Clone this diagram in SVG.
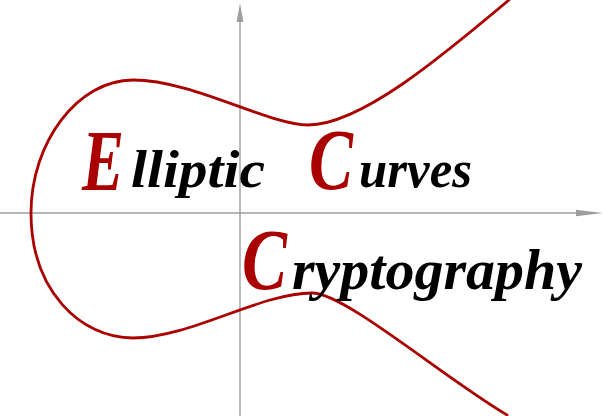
<svg xmlns="http://www.w3.org/2000/svg" width="604" height="416" viewBox="0 0 604 416">
  <style>
    .axis { stroke: #9e9e9e; stroke-width: 1.4; fill: none; }
    .head { fill: #9e9e9e; }
    .curve { stroke: #aa0000; stroke-width: 2.8; fill: none; stroke-linecap: round; }
    .cap { font-family: "Liberation Serif", "Times New Roman", serif; font-style: italic; font-weight: bold; fill: #aa0000; }
    .rest { font-family: "Liberation Serif", "Times New Roman", serif; font-style: italic; font-weight: bold; fill: #000000; }
  </style>
  <rect width="604" height="416" fill="#ffffff"/>
  <g id="connectors">
    <g id="axes">
      <line class="axis" x1="240" y1="20" x2="240" y2="416"/>
      <polygon class="head" points="240,3 236.6,22 243.4,22"/>
      <line class="axis" x1="0" y1="213" x2="578" y2="213"/>
      <polygon class="head" points="603,213 576,209.7 576,216.3"/>
    </g>
    <path id="elliptic-curve" class="curve" d="M 509,0 C 440,58 360,125 308,125 C 268,125 193,80 133,80 C 78,80 31,142 31,213 C 31,290 80,338 133,338 C 190,338 260,293 312,293 C 345,293 440,375 507,415"/>
  </g>
  <g id="word-elliptic">
    <text class="cap" x="82" y="190" font-size="86" textLength="42" lengthAdjust="spacingAndGlyphs">E</text>
    <text class="rest" x="131" y="187" font-size="52" textLength="134" lengthAdjust="spacingAndGlyphs">lliptic</text>
  </g>
  <g id="word-curves">
    <text class="cap" x="309" y="189" font-size="86" textLength="44" lengthAdjust="spacingAndGlyphs">C</text>
    <text class="rest" x="359" y="187" font-size="52" textLength="113" lengthAdjust="spacingAndGlyphs">urves</text>
  </g>
  <g id="word-cryptography">
    <text class="cap" x="242" y="289" font-size="86" textLength="45" lengthAdjust="spacingAndGlyphs">C</text>
    <text class="rest" x="292" y="289" font-size="58" textLength="290" lengthAdjust="spacingAndGlyphs">ryptography</text>
  </g>
</svg>
